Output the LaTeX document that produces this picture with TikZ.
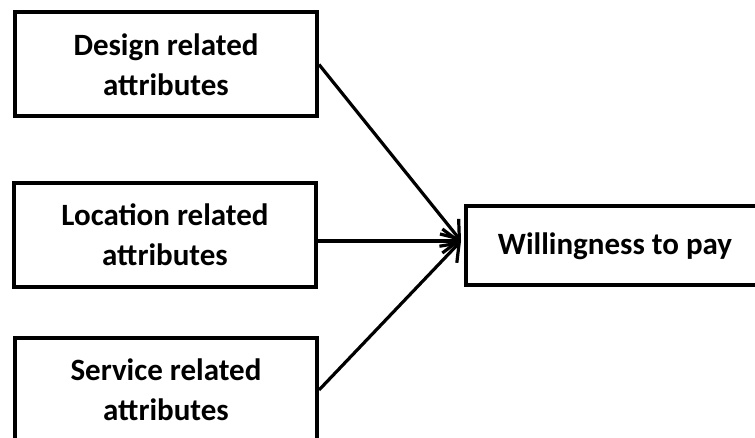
\documentclass[tikz,border=0pt]{standalone}
\usepackage{fontspec}
\setmainfont{Carlito}
\usetikzlibrary{arrows.meta,calc}
\begin{document}
\begin{tikzpicture}[x=1pt,y=-1pt,
  box/.style={draw=black,line width=4pt,fill=white,minimum width=302pt,
    minimum height=104pt,align=center,inner sep=0pt,
    font=\fontsize{31}{40}\selectfont\bfseries},
  link/.style={line width=3.2pt,-{Straight Barb[length=16pt,width=24pt]}}]
\useasboundingbox (0,0) rectangle (755,438);
\clip (0,0) rectangle (755,438);
\node[box] (design) at (166,64.5) {Design related\\attributes};
\node[box] (location) at (165,235) {Location related\\attributes};
\node[box] (service) at (166,390) {Service related\\attributes};
\node[box,minimum width=298pt,minimum height=79pt] (wtp) at (615,246) {Willingness to pay};
\coordinate (tip) at ($(wtp.west)+(-3,-5)$);
\draw[link] (design.east) -- (tip);
\draw[link] (location.east |- tip) -- (tip);
\draw[link] (service.east) -- (tip);
\end{tikzpicture}
\end{document}
